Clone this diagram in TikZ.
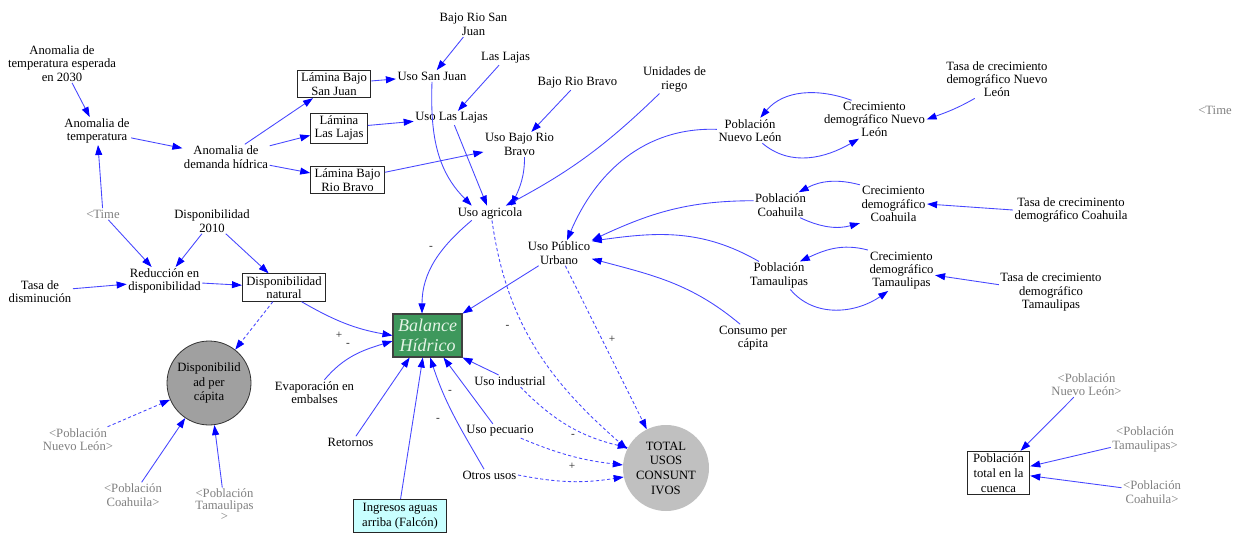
\documentclass[tikz,border=0pt]{standalone}
\usepackage{fontspec}
\setmainfont{Liberation Serif}
\usetikzlibrary{arrows.meta}
\definecolor{balfill}{RGB}{62,152,92}
\definecolor{baltext}{RGB}{228,244,230}
\definecolor{linkblue}{RGB}{70,70,255}
\definecolor{tipblue}{RGB}{0,0,255}
\definecolor{ghostgray}{RGB}{128,128,128}
\definecolor{ingfill}{RGB}{200,255,255}
\definecolor{dpcfill}{RGB}{160,160,160}
\definecolor{totfill}{RGB}{192,192,192}
\begin{document}
\begin{tikzpicture}[x=0.75pt,y=-0.75pt,
  every node/.style={font=\fontsize{9.5}{10}\selectfont,align=center,inner sep=1pt},
  ghost/.style={text=ghostgray},
  box/.style={draw=black!85,line width=0.6pt,inner xsep=3pt,inner ysep=2pt},
  balance/.style={draw=black!75,line width=0.8pt,fill=balfill,text=baltext,
    font={\fontsize{13.5}{15}\selectfont\itshape},minimum width=51.75pt,minimum height=32.25pt,inner sep=0pt},
  link/.style={draw=linkblue,line width=0.65pt,-{Triangle[length=7.5pt,width=5.2pt,color=tipblue]}},
  dlink/.style={link,dash pattern=on 2.4pt off 1.8pt},
  sign/.style={font=\fontsize{8.5}{8.5}\selectfont,text=black!85,inner sep=0pt},
]
\fill[white] (0,0) rectangle (1240,533);
\useasboundingbox (0,0) rectangle (1240,533);

% ---- nodes ----
\node (anesp) at (62,63.5) {Anomalia de\\temperatura esperada\\en 2030};
\node (anT) at (97,131) {Anomalia de\\temperatura};
\node (anD) at (226,157) {Anomalia de\\demanda hídrica};
\node[box] (lsj) at (334,84) {Lámina Bajo\\San Juan};
\node[box] (lll) at (339,128) {Lámina\\Las Lajas};
\node[box] (lrb) at (347.5,180) {Lámina Bajo\\Rio Bravo};
\node (usj) at (432,76) {Uso San Juan};
\node (bsj) at (473.5,24.5) {Bajo Rio San\\Juan};
\node (laj) at (505.5,58) {Las Lajas};
\node (ull) at (451.5,118) {Uso Las Lajas};
\node (brb) at (577.5,83) {Bajo Rio Bravo};
\node (urb) at (519.5,144.5) {Uso Bajo Rio\\Bravo};
\node (unid) at (674.5,79.5) {Unidades de\\riego};
\node (uag) at (490,213) {Uso agricola};
\node (upu) at (559,253) {Uso Público\\Urbano};
\node (pnl) at (750,130.5) {Población\\Nuevo León};
\node (cnl) at (874.5,119.5) {Crecimiento\\demográfico Nuevo\\León};
\node (tnl) at (997,79) {Tasa de crecimiento\\demográfico Nuevo\\León};
\node[ghost] (timeR) at (1215,110) {<Time};
\node (pco) at (780.5,205) {Población\\Coahuila};
\node (cco) at (893.5,204) {Crecimiento\\demográfico\\Coahuila};
\node (tco) at (1071,210) {Tasa de creciminento\\demográfico Coahuila};
\node (pta) at (779,275.5) {Población\\Tamaulipas};
\node (cta) at (901.5,270.5) {Crecimiento\\demográfico\\Tamaulipas};
\node (tta) at (1051,292) {Tasa de crecimiento\\demográfico\\Tamaulipas};
\node (cons) at (753,338) {Consumo per\\cápita};
\node[ghost] (timeL) at (103,214) {<Time};
\node (d2010) at (212,221) {Disponibilidad\\2010};
\node (red) at (164.5,281) {Reducción en\\disponibilidad};
\node (tdis) at (40,291.5) {Tasa de\\disminución};
\node[box] (dnat) at (284,287.5) {Disponibilidad\\natural};
\node[balance] (bal) at (427.5,335.5) {Balance\\Hídrico};
\node[circle,draw=black!80,line width=0.6pt,fill=dpcfill,minimum size=63pt,inner sep=0pt,
  font=\fontsize{9.5}{11}\selectfont] (dpc) at (209,383) {Disponibilid\\ad per\\cápita};
\node (evap) at (314.5,392.5) {Evaporación en\\embalses};
\node (ret) at (350.5,442) {Retornos};
\node[box,fill=ingfill,minimum width=69.75pt,inner ysep=3pt,font=\fontsize{9.5}{11}\selectfont] (ing) at (400,516) {Ingresos aguas\\arriba (Falcón)};
\node (uind) at (510,381) {Uso industrial};
\node (upec) at (500,431) {Uso pecuario};
\node (otros) at (489.5,475) {Otros usos};
\node[circle,fill=totfill,minimum size=64.5pt,inner sep=0pt,
  font=\fontsize{9.5}{11}\selectfont] (tot) at (666,468) {TOTAL\\USOS\\CONSUNT\\IVOS};
\node[ghost] (pnlg) at (78,439.5) {<Población\\Nuevo León>};
\node[ghost] (pcoag) at (133,495) {<Población\\Coahuila>};
\node[ghost,font=\fontsize{9.5}{8.6}\selectfont] (ptamg) at (224.5,505) {<Población\\Tamaulipas\\>};
\node[box,inner xsep=4.5pt,font=\fontsize{9.5}{11}\selectfont] (ptot) at (998.5,473) {Población\\total en la\\cuenca};
\node[ghost] (pnlr) at (1086.5,384.5) {<Población\\Nuevo León>};
\node[ghost] (ptamr) at (1145,439.5) {<Población\\Tamaulipas>};
\node[ghost] (pcoar) at (1152,492) {<Población\\Coahuila>};

% ---- polarity signs ----
\node[sign] (s1) at (431,248) {-};
\node[sign] (s2) at (339,335) {+};
\node[sign] (s3) at (348,345) {-};
\node[sign] (s4) at (507.5,327) {-};
\node[sign] (s5) at (612,339) {+};
\node[sign] (s6) at (450,392) {-};
\node[sign] (s7) at (438,420) {-};
\node[sign] (s8) at (573,436) {-};
\node[sign] (s9) at (572,466) {+};

% ---- links ----
\draw[link] (anesp) -- (anT);
\draw[link] (anT) -- (anD);
\draw[link] (timeL) -- (anT);
\draw[link] (anD) -- (lsj);
\draw[link] (anD) -- (lll);
\draw[link] (anD) -- (lrb);
\draw[link] (lsj) -- (usj);
\draw[link] (lll) -- (ull);
\draw[link] (lrb) -- (urb);
\draw[link] (bsj) -- (usj);
\draw[link] (laj) -- (ull);
\draw[link] (brb) -- (urb);
\draw[link] (usj.-90) to[out=-92,in=135] (uag.158);
\draw[link] (ull) -- (uag);
\draw[link] (urb.-68) to[out=-90,in=65] (uag.19);
\draw[link] (unid.-137) to[bend left=8] (uag.25);
\draw[link] (uag.-158) to[out=-140,in=90] (bal.104);
\draw[dlink] (uag.-75) to[out=-82,in=139] (tot.154);
\draw[link] (upu) -- (bal);
\draw[dlink] (upu) -- (tot);
\draw[link] (pnl.178) to[out=178,in=67] (upu.58);
\draw[link] (pco.171) to[out=180,in=25] (upu.north east);
\draw[link] (pta.145) to[out=150,in=8] (upu.20);
\draw[link] (cons.133) to[out=140,in=-15] (upu.-10);
\draw[link] (cnl.140) to[out=160,in=50] (pnl.51);
\draw[link] (pnl.-46) to[out=-40,in=-150] (cnl.-129);
\draw[link] (tnl.-139) to[out=-150,in=20] (cnl.east);
\draw[link] (cco.north west) to[out=165,in=28] (pco.35);
\draw[link] (pco.-33) to[out=-25,in=-165] (cco.south west);
\draw[link] (tco.west) -- (cco.east);
\draw[link] (cta.north west) to[out=165,in=25] (pta.34);
\draw[link] (pta.-51) to[out=-50,in=-145] (cta.-123);
\draw[link] (tta.172) -- (cta.-8);
\draw[link] (d2010) -- (red);
\draw[link] (d2010) -- (dnat);
\draw[link] (timeL) -- (red);
\draw[link] (tdis) -- (red);
\draw[link] (red) -- (dnat);
\draw[dlink] (dnat) -- (dpc);
\draw[link] (dnat.-39) to[out=-30,in=170] (bal.west);
\draw[link] (evap.52) to[out=50,in=-163] (bal.-171);
\draw[link] (ret.47) -- (bal.-129);
\draw[link] (ing.88) -- (bal.-102);
\draw[link] (otros.133) to[out=120,in=-72] (bal.-83);
\draw[link] (upec.135) -- (bal.-54);
\draw[link] (uind.152) -- (bal.south east);
\draw[dlink] (uind.-30) to[bend right=16] (tot.152);
\draw[dlink] (upec.-19) to[bend right=8] (tot.176);
\draw[dlink] (otros.east) to[bend right=10] (tot.-168);
\draw[dlink] (pnlg) -- (dpc);
\draw[link] (pcoag) -- (dpc);
\draw[link] (ptamg) -- (dpc);
\draw[link] (pnlr) -- (ptot);
\draw[link] (ptamr.-167) -- (ptot.12);
\draw[link] (pcoar.172) -- (ptot.-5);
\end{tikzpicture}
\end{document}
